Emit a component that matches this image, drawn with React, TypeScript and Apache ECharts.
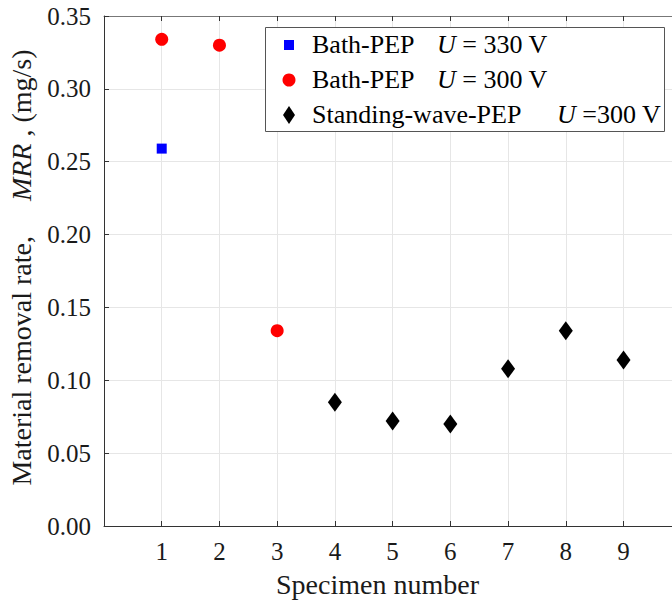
import React, { useEffect, useRef } from "react";
import * as echarts from "echarts";

const specimens330 = [1];
const mrr330 = [0.259];
const specimens300 = [1, 2, 3];
const mrr300 = [0.334, 0.33, 0.134];
const specimensSW = [4, 5, 6, 7, 8, 9];
const mrrSW = [0.085, 0.072, 0.07, 0.108, 0.134, 0.114];
const yTicks = [0, 0.05, 0.1, 0.15, 0.2, 0.25, 0.3, 0.35];
const xTickLabels = ["1", "2", "3", "4", "5", "6", "7", "8", "9"];

const legendNames = ["Bath-PEP", "Bath-PEP", "Standing-wave-PEP"];
const legendVoltages = [" = 330 V", " = 300 V", " =300 V"];

const FONT = "Liberation Serif, Times New Roman, serif";

export default function App() {
  const ref = useRef<HTMLDivElement>(null);
  useEffect(() => {
    if (!ref.current) return;
    const chart = echarts.init(ref.current, null, { renderer: "svg" });
    const pair = (xs: number[], ys: number[]) => xs.map((x, i) => [x, ys[i]]);
    const axisColor = "#333333";
    const gridColor = "#e6e6e6";
    const txt = "#1a1a1a";

    const rowY = [45, 80, 115];
    const uX = [437, 437, 557];
    const legendGraphics: any[] = [
      {
        type: "rect",
        shape: { x: 265.5, y: 27.5, width: 399, height: 104 },
        style: { fill: "#ffffff", stroke: "#555555", lineWidth: 1 },
        z: 10,
      },
      {
        type: "rect",
        shape: { x: 284, y: rowY[0] - 5, width: 10, height: 10 },
        style: { fill: "#0000ff" },
        z: 11,
      },
      {
        type: "circle",
        shape: { cx: 289, cy: rowY[1], r: 6.5 },
        style: { fill: "#ff0000" },
        z: 11,
      },
      {
        type: "polygon",
        shape: {
          points: [
            [289, rowY[2] - 9],
            [295, rowY[2]],
            [289, rowY[2] + 9],
            [283, rowY[2]],
          ],
        },
        style: { fill: "#000000" },
        z: 11,
      },
    ];
    legendNames.forEach((n, i) => {
      legendGraphics.push({
        type: "text",
        x: 312,
        y: rowY[i] - 1,
        style: { text: n, fontFamily: FONT, fontSize: 26, fill: "#000", verticalAlign: "middle" },
        z: 11,
      });
      legendGraphics.push({
        type: "text",
        x: uX[i],
        y: rowY[i] - 1,
        style: {
          text: "{i|U}{n|" + legendVoltages[i] + "}",
          fontFamily: FONT,
          fontSize: 26,
          fill: "#000",
          verticalAlign: "middle",
          rich: {
            i: { fontFamily: FONT, fontSize: 26, fontStyle: "italic", fill: "#000" },
            n: { fontFamily: FONT, fontSize: 26, fill: "#000" },
          },
        },
        z: 11,
      });
    });

    chart.setOption({
      animation: false,
      backgroundColor: "#ffffff",
      textStyle: { fontFamily: FONT },
      grid: { left: 104, top: 16, bottom: 80, right: 0, containLabel: false, outerBoundsMode: "none" },
      graphic: legendGraphics,
      xAxis: [
        {
          type: "value",
          min: 0,
          max: 9.84,
          interval: 1,
          name: "Specimen number   ",
          nameLocation: "middle",
          nameGap: 44,
          nameTextStyle: { fontFamily: FONT, fontSize: 28, color: txt },
          axisLine: { show: true, lineStyle: { color: axisColor, width: 1 } },
          axisTick: { show: true, inside: true, length: 5, lineStyle: { color: axisColor } },
          axisLabel: {
            fontFamily: FONT,
            fontSize: 25,
            color: txt,
            margin: 13,
            formatter: (v: number) =>
              Math.abs(v - Math.round(v)) < 1e-6 && v >= 1 && v <= 9 ? xTickLabels[Math.round(v) - 1] : "",
          },
          splitLine: { show: true, lineStyle: { color: gridColor, width: 1 } },
        },
        {
          type: "value",
          position: "top",
          min: 0,
          max: 9.84,
          interval: 1,
          axisLine: { show: true, lineStyle: { color: "#777777", width: 1 } },
          axisTick: { show: true, inside: true, length: 5, lineStyle: { color: axisColor } },
          axisLabel: { show: false },
          splitLine: { show: false },
        },
      ],
      yAxis: {
        type: "value",
        min: 0,
        max: 0.35,
        interval: 0.05,
        name: "{n| Material removal rate,     }{i|MRR}{n| , (mg/s)}",
        nameLocation: "middle",
        nameRotate: 90,
        nameGap: 69,
        nameTextStyle: {
          fontFamily: FONT,
          fontSize: 28,
          color: txt,
          rich: {
            n: { fontFamily: FONT, fontSize: 28, color: txt },
            i: { fontFamily: FONT, fontSize: 28, color: txt, fontStyle: "italic" },
          },
        },
        axisLine: { show: true, lineStyle: { color: axisColor, width: 1 } },
        axisTick: { show: true, inside: true, length: 5, lineStyle: { color: axisColor } },
        axisLabel: {
          fontFamily: FONT,
          fontSize: 25,
          color: txt,
          margin: 13,
          formatter: (v: number) => {
            const t = yTicks.find((y) => Math.abs(y - v) < 1e-9);
            return (t !== undefined ? t : v).toFixed(2);
          },
        },
        splitLine: { show: true, lineStyle: { color: gridColor, width: 1 } },
      },
      series: [
        {
          name: "Bath-PEP U = 330 V",
          type: "scatter",
          symbol: "rect",
          symbolSize: 10,
          itemStyle: { color: "#0000ff", opacity: 1 },
          data: pair(specimens330, mrr330),
          z: 3,
        },
        {
          name: "Bath-PEP U = 300 V",
          type: "scatter",
          symbol: "circle",
          symbolSize: 13,
          itemStyle: { color: "#ff0000", opacity: 1 },
          data: pair(specimens300, mrr300),
          z: 3,
        },
        {
          name: "Standing-wave-PEP U =300 V",
          type: "scatter",
          symbol: "diamond",
          symbolSize: [14, 19],
          itemStyle: { color: "#000000", opacity: 1 },
          data: pair(specimensSW, mrrSW),
          z: 3,
        },
      ],
    });
    return () => chart.dispose();
  }, []);
  return (
    <div
      ref={ref}
      style={{ position: "absolute", left: 0, top: 0, width: 672, height: 606, background: "#fff" }}
    />
  );
}
